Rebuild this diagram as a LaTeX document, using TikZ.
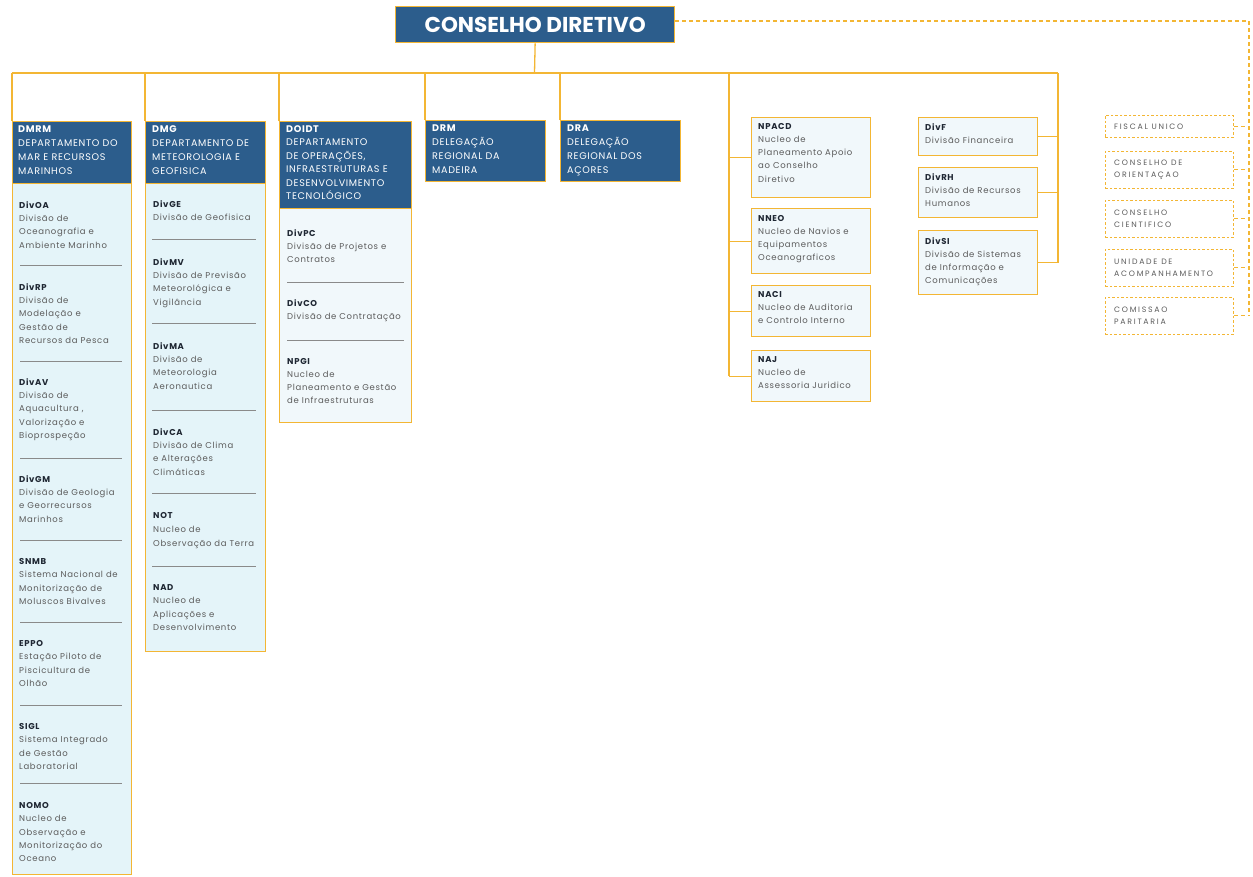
\documentclass[tikz,border=0pt]{standalone}
\usepackage{fontspec}
\setmainfont{Poppins}
\newfontfamily\itfont[LetterSpace=8]{Poppins}
\newfontfamily\hdfont[LetterSpace=7]{Poppins}
\newfontfamily\rtfont[LetterSpace=22]{Poppins}
\definecolor{cdblue}{HTML}{2C5D8C}
\definecolor{orgline}{HTML}{F3B634}
\definecolor{lightfill}{HTML}{F1F8FB}
\definecolor{cyanfill}{HTML}{E4F4F9}
\definecolor{txtgray}{HTML}{5C5C5C}
\definecolor{codecol}{HTML}{1F2733}
\definecolor{sepgray}{HTML}{8A8A8A}
\newcommand{\cod}[1]{\textcolor{codecol}{\textbf{#1}}}
\newcommand{\hcod}[1]{\textbf{#1}}
\begin{document}
\begin{tikzpicture}[x=1pt,y=-1pt,
  conn/.style={draw=orgline,line width=1.3pt},
  dconn/.style={draw=orgline,line width=1.1pt,dash pattern=on 4pt off 3pt},
  hdbox/.style={draw=orgline,line width=1.3pt,fill=cdblue,anchor=north west,inner sep=0pt},
  colbox/.style={draw=orgline,line width=1.3pt,anchor=north west,inner sep=0pt},
  unitbox/.style={draw=orgline,line width=1.3pt,fill=lightfill,anchor=north west,inner sep=0pt},
  rtbox/.style={draw=orgline,line width=0.8pt,dash pattern=on 2.5pt off 2pt,fill=white,anchor=north west,inner sep=0pt,minimum width=128pt},
  item/.style={anchor=north west,align=left,inner sep=0pt,text=txtgray,font=\itfont\fontsize{8.5}{13.2}\selectfont},
  hdtxt/.style={anchor=north west,align=left,inner sep=0pt,text=white,font=\hdfont\fontsize{9.6}{14}\selectfont},
  rttxt/.style={anchor=west,align=left,inner sep=0pt,text=txtgray,font=\rtfont\fontsize{7.8}{12}\selectfont},
  sep/.style={draw=sepgray,line width=0.6pt}
]
\useasboundingbox (0,0) rectangle (1253,876);
\fill[white] (0,0) rectangle (1253,876);

% top
\node[hdbox,minimum width=279pt,minimum height=36pt] (cd) at (395,6) {};
\node[text=white,font=\fontsize{21.5}{24}\selectfont\bfseries,inner sep=0pt] (cdt) at (cd.center) {CONSELHO DIRETIVO};

% column boxes
\node[colbox,fill=cyanfill,minimum width=119pt,minimum height=753pt] (dmrm) at (12,121) {};
\node[hdbox,minimum width=119pt,minimum height=62pt] (dmrmh) at (12,121) {};
\node[hdtxt] (dmrmt) at (18,125.5) {\hcod{DMRM}\\DEPARTAMENTO DO\\MAR E RECURSOS\\MARINHOS};

\node[colbox,fill=cyanfill,minimum width=120pt,minimum height=530pt] (dmg) at (145,121) {};
\node[hdbox,minimum width=120pt,minimum height=62pt] (dmgh) at (145,121) {};
\node[hdtxt] (dmgt) at (152,125.5) {\hcod{DMG}\\DEPARTAMENTO DE\\METEOROLOGIA E\\GEOFISICA};

\node[colbox,fill=lightfill,minimum width=132pt,minimum height=301pt] (doidt) at (279,121) {};
\node[hdbox,minimum width=132pt,minimum height=87pt] (doidth) at (279,121) {};
\node[hdtxt,font=\hdfont\fontsize{9.6}{13.4}\selectfont] (doidtt) at (286,125.5) {\hcod{DOIDT}\\DEPARTAMENTO\\DE OPERAÇÕES,\\INFRAESTRUTURAS E\\DESENVOLVIMENTO\\TECNOLÓGICO};

\node[hdbox,minimum width=120pt,minimum height=61pt] (drm) at (425,120) {};
\node[hdtxt] (drmt) at (432,124.5) {\hcod{DRM}\\DELEGAÇÃO\\REGIONAL DA\\MADEIRA};

\node[hdbox,minimum width=120pt,minimum height=61pt] (dra) at (560,120) {};
\node[hdtxt] (drat) at (567,124.5) {\hcod{DRA}\\DELEGAÇÃO\\REGIONAL DOS\\AÇORES};

% column 1 items
\node[item] (divoa) at (19,201.5) {\cod{DivOA}\\Divisão de\\Oceanografia e\\Ambiente Marinho};
\draw[sep] (20,265) -- (122,265);
\node[item] (divrp) at (19,283.5) {\cod{DivRP}\\Divisão de\\Modelação e\\Gestão de\\Recursos da Pesca};
\draw[sep] (20,361) -- (122,361);
\node[item] (divav) at (19,378.5) {\cod{DivAV}\\Divisão de\\Aquacultura ,\\Valorização e\\Bioprospeção};
\draw[sep] (20,458) -- (122,458);
\node[item] (divgm) at (19,475.5) {\cod{DivGM}\\Divisão de Geologia\\e Georrecursos\\Marinhos};
\draw[sep] (20,540) -- (122,540);
\node[item] (snmb) at (19,558.5) {\cod{SNMB}\\Sistema Nacional de\\Monitorização de\\Moluscos Bivalves};
\draw[sep] (20,622) -- (122,622);
\node[item] (eppo) at (19,640.5) {\cod{EPPO}\\Estação Piloto de\\Piscicultura de\\Olhão};
\draw[sep] (20,705) -- (122,705);
\node[item] (sigl) at (19,723.5) {\cod{SIGL}\\Sistema Integrado\\de Gestão\\Laboratorial};
\draw[sep] (20,783) -- (122,783);
\node[item] (nomo) at (19,802.5) {\cod{NOMO}\\Nucleo de\\Observação e\\Monitorização do\\Oceano};

% column 2 items
\node[item] (divge) at (153,200.5) {\cod{DivGE}\\Divisão de Geofisica};
\draw[sep] (152,239) -- (256,239);
\node[item] (divmv) at (153,258.5) {\cod{DivMV}\\Divisão de Previsão\\Meteorológica e\\Vigilância};
\draw[sep] (152,323) -- (256,323);
\node[item] (divma) at (153,342.5) {\cod{DivMA}\\Divisão de\\Meteorologia\\Aeronautica};
\draw[sep] (152,410) -- (256,410);
\node[item] (divca) at (153,428.5) {\cod{DivCA}\\Divisão de Clima\\e Alterações\\Climáticas};
\draw[sep] (152,493) -- (256,493);
\node[item,font=\itfont\fontsize{8.5}{14}\selectfont] (not) at (153,512.5) {\cod{NOT}\\Nucleo de\\Observação da Terra};
\draw[sep] (152,566) -- (256,566);
\node[item] (nad) at (153,584.5) {\cod{NAD}\\Nucleo de\\Aplicações e\\Desenvolvimento};

% column 3 items
\node[item] (divpc) at (287,229.5) {\cod{DivPC}\\Divisão de Projetos e\\Contratos};
\draw[sep] (287,282) -- (404,282);
\node[item] (divco) at (287,299.5) {\cod{DivCO}\\Divisão de Contratação};
\draw[sep] (287,340) -- (404,340);
\node[item,font=\itfont\fontsize{8.5}{12.8}\selectfont] (npgi) at (287,358.5) {\cod{NPGI}\\Nucleo de\\Planeamento e Gestão\\de Infraestruturas};

% nucleos
\node[unitbox,minimum width=119pt,minimum height=80pt] (npacd) at (751,117) {};
\node[item] (npacdt) at (758,123) {\cod{NPACD}\\Nucleo de\\Planeamento Apoio\\ao Conselho\\Diretivo};
\node[unitbox,minimum width=119pt,minimum height=65pt] (nneo) at (751,208) {};
\node[item] (nneot) at (758,215) {\cod{NNEO}\\Nucleo de Navios e\\Equipamentos\\Oceanograficos};
\node[unitbox,minimum width=119pt,minimum height=51pt] (naci) at (751,285) {};
\node[item] (nacit) at (758,291) {\cod{NACI}\\Nucleo de Auditoria\\e Controlo Interno};
\node[unitbox,minimum width=119pt,minimum height=51pt] (naj) at (751,350) {};
\node[item] (najt) at (758,356) {\cod{NAJ}\\Nucleo de\\Assessoria Juridico};

% divisoes
\node[unitbox,minimum width=119pt,minimum height=38pt] (divf) at (918,117) {};
\node[item] (divft) at (925,123) {\cod{DivF}\\Divisão Financeira};
\node[unitbox,minimum width=119pt,minimum height=50pt] (divrh) at (918,167) {};
\node[item] (divrht) at (925,173) {\cod{DivRH}\\Divisão de Recursos\\Humanos};
\node[unitbox,minimum width=119pt,minimum height=64pt] (divsi) at (918,230) {};
\node[item] (divsit) at (925,237) {\cod{DivSI}\\Divisão de Sistemas\\de Informação e\\Comunicações};

% right dashed boxes
\node[rtbox,minimum height=22pt] (fiscal) at (1105,115) {};
\node[rttxt] (fiscalt) at ([xshift=9pt]fiscal.west) {FISCAL UNICO};
\node[rtbox,minimum height=37pt] (corient) at (1105,151) {};
\node[rttxt] (corientt) at ([xshift=9pt]corient.west) {CONSELHO DE\\ORIENTAÇAO};
\node[rtbox,minimum height=37pt] (ccient) at (1105,200) {};
\node[rttxt] (ccientt) at ([xshift=9pt]ccient.west) {CONSELHO\\CIENTIFICO};
\node[rtbox,minimum height=37pt] (uacomp) at (1105,249) {};
\node[rttxt] (uacompt) at ([xshift=9pt]uacomp.west) {UNIDADE DE\\ACOMPANHAMENTO};
\node[rtbox,minimum height=37pt] (comissao) at (1105,297) {};
\node[rttxt] (comissaot) at ([xshift=9pt]comissao.west) {COMISSAO\\PARITARIA};

% connectors
\coordinate (hl) at (12,73);
\coordinate (hr) at (1058,73);
\coordinate (cdj) at (534.5,73);
\coordinate (vn) at (729,73);
\coordinate (dtr) at (1249,21);
\draw[conn] (cd.south) -- (cdj);
\draw[conn] (hl) -- (hr);
\draw[conn] (dmrm.north west) -- (dmrm.north west |- hl);
\draw[conn] (dmg.north west) -- (dmg.north west |- hl);
\draw[conn] (doidt.north west) -- (doidt.north west |- hl);
\draw[conn] (drm.north west) -- (drm.north west |- hl);
\draw[conn] (dra.north west) -- (dra.north west |- hl);
\draw[conn] (vn) -- (vn |- naj.west);
\draw[conn] (npacd.west) -- (npacd.west -| vn);
\draw[conn] (nneo.west) -- (nneo.west -| vn);
\draw[conn] (naci.west) -- (naci.west -| vn);
\draw[conn] (naj.west) -- (naj.west -| vn);
\draw[conn] (hr) -- (hr |- divsi.east);
\draw[conn] (divf.east) -- (divf.east -| hr);
\draw[conn] (divrh.east) -- (divrh.east -| hr);
\draw[conn] (divsi.east) -- (divsi.east -| hr);

\draw[dconn] (cd.east |- dtr) -- (dtr) -- (dtr |- comissao.east);
\draw[dconn] (fiscal.east) -- (fiscal.east -| dtr);
\draw[dconn] (corient.east) -- (corient.east -| dtr);
\draw[dconn] (ccient.east) -- (ccient.east -| dtr);
\draw[dconn] (uacomp.east) -- (uacomp.east -| dtr);
\draw[dconn] (comissao.east) -- (comissao.east -| dtr);
\end{tikzpicture}
\end{document}
